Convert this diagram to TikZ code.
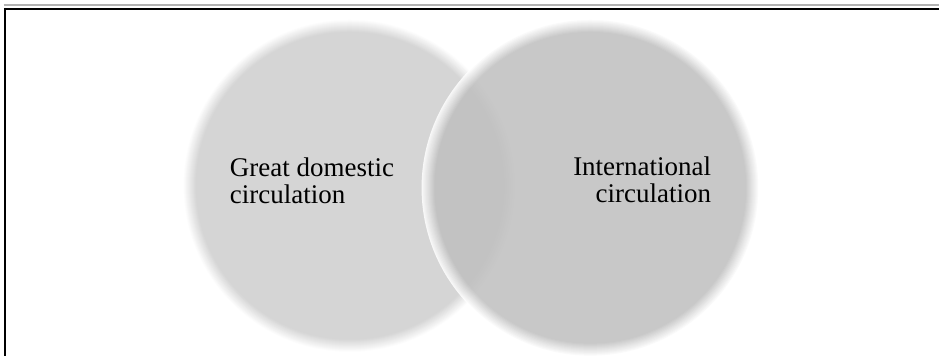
\documentclass[tikz,border=0pt]{standalone}
\usepackage{fontspec}
\setmainfont{Liberation Serif}
\definecolor{domgray}{rgb}{0.835,0.835,0.835}
\definecolor{intgray}{rgb}{0.75,0.75,0.75}
\tikzset{
    caption/.style={font=\fontsize{27}{27}\selectfont, inner sep=0pt}
}
\begin{document}
\begin{tikzpicture}[x=1pt,y=-1pt]
    \fill[white] (0,0) rectangle (940,356);
    % frame
    \draw[gray!60, line width=1.5pt] (4,5)--(940,5);
    \draw[line width=2pt] (4,9)--(940,9);
    \draw[line width=2pt] (5,8)--(5,356);
    
    \coordinate (dom) at (350,186);
    \coordinate (int) at (591,188);
    
    % soft edged discs
    \foreach \k [evaluate=\k as \pct using \k*100/13] in {0,...,13}
        \fill[domgray!\pct!white] (dom) circle ({167-\k});
    \begin{scope}[transparency group, opacity=0.85]
    \foreach \k [evaluate=\k as \pct using \k*100/13] in {0,...,13}
        \fill[intgray!\pct!white] (int) circle ({169-\k});
    \end{scope}
    
    \node[caption, anchor=base west, align=left] (domtext) at (230,204) {Great domestic\\circulation};
    \node[caption, anchor=base east, align=right] (inttext) at (712,203) {International\\circulation};
    
        \end{tikzpicture}
\end{document}
